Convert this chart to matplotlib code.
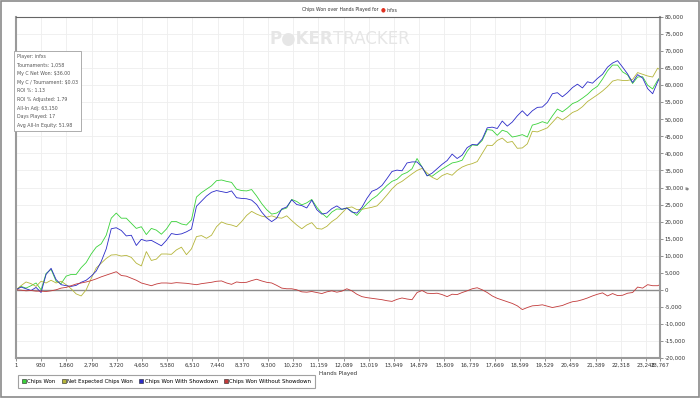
import matplotlib
matplotlib.use("Agg")
import matplotlib.pyplot as plt
from matplotlib.lines import Line2D
from matplotlib.patches import Rectangle

# hands sampled every 185 hands, plus the last hand
hands = list(range(1, 23700, 185)) + [23767]

chips_won = [
    0, 1000, 500, 1200, 2000, 0, 4800, 6000, 2500, 1800,
    4000, 4500, 4500, 6500, 8000, 10500, 12500, 13500, 16000, 21000,
    22500, 21000, 21000, 19500, 18000, 18500, 16200, 18000, 17500, 16300,
    17800, 20000, 20000, 19300, 19000, 20500, 27200, 28500, 29500, 30500,
    32000, 32200, 31800, 31500, 29500, 29100, 29000, 29400, 27500, 25300,
    23500, 22200, 22500, 23500, 24000, 26500, 25900, 24900, 25500, 26500,
    24200, 22500, 21200, 22800, 23700, 23600, 24000, 23000, 21800, 23600,
    25200, 26600, 27600, 29100, 30600, 31800, 32400, 33800, 34400, 35500,
    38500, 36000, 33600, 33300, 34400, 35400, 36300, 37200, 37500, 38000,
    40600, 42500, 42300, 43800, 47000, 46800, 45300, 46800, 46300, 44800,
    45100, 45500, 44800, 48300, 48700, 49300, 48800, 51000, 53000, 52200,
    53300, 54600, 55200, 56200, 57300, 58700, 59700, 61800, 64200, 65900,
    65900, 63900, 63000, 60500, 62400, 62500, 60000, 58900, 61500, 62300,
]

net_expected = [
    0, 1200, 2300, 1800, 1000, 2500, 2000, 2800, 2000, 2500,
    1500, 300, -1200, -1800, 0, 3300, 6400, 7800, 9200, 10200,
    10300, 9900, 10100, 9500, 7800, 7000, 11200, 8600, 9000, 10500,
    10500, 10400, 11700, 12500, 10300, 12000, 15600, 15900, 15100, 16000,
    18500, 19900, 19300, 19000, 18500, 20000, 21800, 23000, 22200, 21600,
    21300, 21700, 21200, 21000, 21700, 20300, 19000, 17900, 19000, 19700,
    18000, 17800, 18600, 20000, 21000, 22500, 24000, 24300, 23500, 23600,
    23900, 24200, 24600, 26100, 27800, 29600, 31000, 31800, 32900, 34000,
    35000, 35600, 34300, 33000, 32300, 33500, 34100, 33600, 35000, 36000,
    36600, 37000, 37600, 40000, 42400, 42300, 43800, 44500, 43200, 43500,
    41500, 41600, 42800, 46500, 46300, 46900, 47500, 49100, 50700, 49800,
    50800, 52000, 52600, 53700, 55200, 56200, 57200, 58300, 59600, 61200,
    61600, 61400, 61400, 61700, 63700, 63200, 62700, 62400, 65000, 64500,
]

with_showdown = [
    0, 800, 300, -200, 700, -800, 4500, 6300, 3000, 1500,
    1200, 1000, 1300, 2200, 2800, 4000, 5500, 8300, 12000, 17900,
    18200, 17400, 15800, 16000, 13000, 14800, 14300, 14500, 13700, 12900,
    14500, 16500, 16200, 16400, 17000, 17800, 24500, 26000, 27500, 28600,
    29100, 28800, 28500, 29000, 27000, 26800, 26700, 26300, 25000, 22800,
    21100, 20000, 21000, 23700, 24300, 26400, 25000, 24700, 24000, 26300,
    23500, 22200, 22500, 23800, 24600, 23600, 24000, 22800, 22500, 24200,
    26800, 28900, 29500, 30600, 32600, 34700, 35100, 34900, 37200, 37500,
    37500, 36000, 33400, 34200, 35500, 36800, 37900, 39800, 38500, 39500,
    41700, 42600, 42500, 44200, 47500, 47700, 47300, 49500, 48000, 49200,
    51000, 52500, 51000, 52500, 53500, 53600, 55000, 57500, 57800, 56600,
    57800, 59300, 60300, 59200, 61000, 60600, 62000, 63200, 65300, 66500,
    67200, 65300, 63300, 60800, 63100, 62100, 59000, 57500, 61000, 62300,
]

without_showdown = [
    0, -100, -300, -200, -400, -400, -500, -300, 0, 500,
    700, 1200, 1700, 2000, 2300, 2700, 3200, 3800, 4300, 4800,
    5300, 4200, 4000, 3400, 2800, 2000, 1600, 1200, 1700, 2000,
    2000, 1900, 2100, 2000, 1900, 1700, 1500, 1800, 2000, 2200,
    2500, 2600, 2000, 1600, 2300, 2100, 2200, 2700, 3100, 2600,
    2200, 2000, 1300, 500, 300, 300, 0, -600, -700, -500,
    -800, -1100, -600, -300, -700, -400, 300, -300, -1300, -2000,
    -2300, -2500, -2700, -2900, -3200, -3400, -2800, -2400, -2700, -2900,
    -800, -200, -1000, -1100, -1000, -1400, -2000, -1300, -1400, -800,
    -300, 300, 600, 0, -800, -1800, -2500, -3000, -3500, -4000,
    -4700, -5800, -5200, -4700, -4600, -4400, -4800, -5200, -4900, -4600,
    -4000, -3500, -3300, -2900, -2400, -1800, -1300, -900, -1800, -1100,
    -1700, -1600, -1000, -800, 800, 500, 1500, 1200, 1200, 1500,
]

x_ticks = [1, 930, 1860, 2790, 3720, 4650, 5580, 6510, 7440, 8370, 9300,
           10230, 11159, 12089, 13019, 13949, 14879, 15809, 16739, 17669,
           18599, 19529, 20459, 21389, 22318, 23248, 23767]
y_ticks = list(range(-20000, 80001, 5000))

info_lines = [
    "Player: infxs",
    "Tournaments: 1,058",
    "My C Net Won: $36.00",
    "My C / Tournament: $0.03",
    "ROI %: 1.13",
    "ROI % Adjusted: 1.79",
    "All-In Adj: 63,150",
    "Days Played: 17",
    "Avg All-In Equity: 51.98",
]

series = [
    ("Chips Won", chips_won, "#3ad23a"),
    ("Net Expected Chips Won", net_expected, "#b5b53a"),
    ("Chips Won With Showdown", with_showdown, "#2b2bc8"),
    ("Chips Won Without Showdown", without_showdown, "#c23a3a"),
]

fig = plt.figure(figsize=(7.0, 3.98), dpi=100)
fig.patch.set_facecolor("white")
fig.patches.append(Rectangle((0.001, 0.002), 0.997, 0.995, transform=fig.transFigure,
                             fill=False, edgecolor="#8a8a8a", linewidth=1.2))

ax = fig.add_axes([16 / 700, 1 - 358 / 398, 644 / 700, 341 / 398])

for name, vals, col in series:
    ax.plot(hands, vals, color=col, linewidth=0.6)

ax.axhline(0, color="#8c8c8c", linewidth=1.0, zorder=1)

ax.set_xlim(1, 23767)
ax.set_ylim(-20000, 80000)
ax.set_xticks(x_ticks)
ax.set_xticklabels([f"{t:,}" for t in x_ticks], fontsize=3.9, color="#333333")
ax.set_yticks(y_ticks)
ax.set_yticklabels([f"{t:,}" for t in y_ticks], fontsize=3.9, color="#333333")
ax.yaxis.tick_right()
ax.tick_params(axis="both", length=2, width=0.5, color="#666666", pad=1.5)
ax.grid(True, color="#eeeeee", linewidth=0.6)
ax.set_axisbelow(True)
for side in ["left", "right", "bottom"]:
    ax.spines[side].set_color("#9a9a9a")
    ax.spines[side].set_linewidth(1.5)
ax.spines["top"].set_color("#666666")
ax.spines["top"].set_linewidth(0.8)

ax.set_xlabel("Hands Played", fontsize=4.1, color="#333333", labelpad=2)

# title
ty = 1 - 10 / 398
fig.text(378 / 700, ty, "Chips Won over Hands Played for", fontsize=3.35,
         ha="right", va="center", color="#333333")
fig.text(383 / 700, ty, "\u25cf", fontsize=4, ha="center", va="center",
         color="#e03020")
fig.text(387 / 700, ty, "infxs", fontsize=3.35, ha="left", va="center",
         color="#333333")

# watermark
fig.text(333 / 700, 1 - 39 / 398, "P\u25cfKER", fontsize=12, fontweight="bold",
         ha="right", va="center", color="#e6e6e6")
fig.text(333 / 700, 1 - 39 / 398, "TRACKER", fontsize=12, ha="left", va="center",
         color="#e6e6e6")

# "#" marker on right
fig.text(688 / 700, 1 - 188 / 398, "#", fontsize=3.6, ha="center", va="center",
         color="#444444", rotation=90)

# player info box
ax.text(0.0018, 1 - 37 / 341, "\n".join(info_lines), transform=ax.transAxes,
        fontsize=3.4, va="top", ha="left", color="#555555", linespacing=1.9,
        bbox=dict(boxstyle="square,pad=0.6", facecolor="white",
                  edgecolor="#a0a0a0", linewidth=0.6))

handles = [Line2D([], [], marker="s", linestyle="none", markersize=3.0,
                  markerfacecolor=col, markeredgecolor="#222222",
                  markeredgewidth=0.4) for _, _, col in series]
leg = fig.legend(handles, [s[0] for s in series], loc="lower left",
                 bbox_to_anchor=(15 / 700, 7 / 398), ncol=4, fontsize=3.9,
                 frameon=True, handletextpad=0.2, columnspacing=1.15,
                 borderpad=0.75, handlelength=0.8, fancybox=False)
leg.get_frame().set_edgecolor("#8a8a8a")
leg.get_frame().set_linewidth(0.8)

fig.savefig("out.png", dpi=100)
